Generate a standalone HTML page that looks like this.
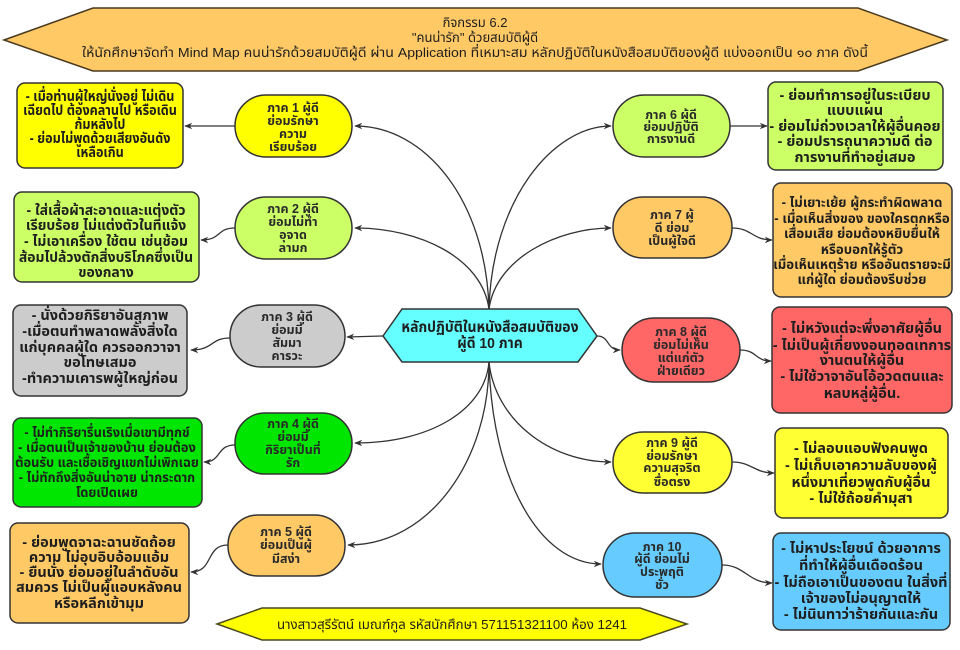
<!DOCTYPE html>
<html><head><meta charset="utf-8">
<style>
html,body{margin:0;padding:0;background:#fff;}
svg{display:block;}
text{font-family:"Liberation Sans","Noto Sans Thai","Loma","Garuda","Tlwg Typo","DejaVu Sans",sans-serif;fill:#1e1e1e;text-anchor:middle;}
.h{font-size:13px;}
.n{font-size:12.5px;font-weight:bold;fill:#2a2a2a;}
.b{font-size:14.5px;font-weight:bold;}
.s{font-size:13.5px;font-weight:bold;}
.c{font-size:15px;font-weight:bold;}
</style></head>
<body>
<svg width="960" height="650" viewBox="0 0 960 650" xmlns="http://www.w3.org/2000/svg">
<defs>
<marker id="a" viewBox="0 0 10 10" refX="9" refY="5" markerWidth="8" markerHeight="8" markerUnits="userSpaceOnUse" orient="auto">
<path d="M0,1 L10,5 L0,9 L3,5 Z" fill="#333"/>
</marker>
</defs>
<rect width="960" height="650" fill="#fff"/>

<!-- header -->
<polygon points="4,40 93,8 858,8 947,40 858,71 93,71" fill="#ffc966" stroke="#4a3a20" stroke-width="1.5"/>
<text class="h" x="475" y="27">กิจกรรม 6.2</text>
<text class="h" x="475" y="42">"คนน่ารัก" ด้วยสมบัติผู้ดี</text>
<text class="h" x="475" y="57" textLength="786" lengthAdjust="spacingAndGlyphs">ให้นักศึกษาจัดทำ Mind Map คนน่ารักด้วยสมบัติผู้ดี ผ่าน Application ที่เหมาะสม หลักปฏิบัติในหนังสือสมบัติของผู้ดี แบ่งออกเป็น ๑๐ ภาค ดังนี้</text>

<!-- connectors center -->
<g fill="none" stroke="#333" stroke-width="1.3" marker-end="url(#a)">
<path d="M489,309 C486,200 425,126 355,126"/>
<path d="M489,309 C482,258 420,228 355,228"/>
<path d="M489,309 C492,200 553,126 611,126"/>
<path d="M489,309 C496,258 558,228 611,228"/>
<path d="M383,336 L347,337"/>
<path d="M597,336 C610,336 606,350 620,350"/>
<path d="M489,362 C485,410 430,443 355,443"/>
<path d="M489,362 C489,460 430,545 348,545"/>
<path d="M489,362 C495,420 550,462 611,462"/>
<path d="M489,362 C492,480 540,564 601,564"/>
<!-- node to box -->
<path d="M235,126 L185,126"/>
<path d="M235,228 C216,228 222,240 201,240"/>
<path d="M230,338 C210,338 214,350 191,350"/>
<path d="M235,445 C216,445 222,462 204,462"/>
<path d="M228,545 C205,545 214,572 191,572"/>
<path d="M730,126 L767,126"/>
<path d="M732,228 C752,228 752,240 772,240"/>
<path d="M740,350 C757,350 755,361 771,361"/>
<path d="M732,462 C752,462 754,473 774,473"/>
<path d="M722,565 C745,565 748,583 772,583"/>
</g>

<!-- center -->
<polygon points="383,336 402,309 578,309 597,336 578,362 402,362" fill="#66ffff" stroke="#333" stroke-width="1.5"/>
<g transform="translate(490,0) scale(0.93,1) translate(-490,0)">
<text class="c" x="490" y="332">หลักปฏิบัติในหนังสือสมบัติของ</text>
<text class="c" x="490" y="348">ผู้ดี  10 ภาค</text>
</g>

<!-- nodes -->
<g stroke="#333" stroke-width="1.5">
<rect x="235" y="95" width="117" height="62" rx="31" fill="#ffff00"/>
<rect x="235" y="197" width="117" height="62" rx="31" fill="#ccff66"/>
<rect x="230" y="305" width="115" height="62" rx="31" fill="#cccccc"/>
<rect x="235" y="413" width="117" height="61" rx="30" fill="#00e600"/>
<rect x="228" y="515" width="117" height="61" rx="30" fill="#ffc966"/>
<rect x="613" y="95" width="117" height="62" rx="31" fill="#ccff66"/>
<rect x="613" y="197" width="119" height="61" rx="30" fill="#ffc966"/>
<rect x="622" y="318" width="118" height="64" rx="32" fill="#ff6666"/>
<rect x="613" y="432" width="119" height="61" rx="30" fill="#ffff33"/>
<rect x="603" y="533" width="119" height="64" rx="32" fill="#66ccff"/>
</g>
<text class="n" x="293" y="112">ภาค 1 ผู้ดี</text>
<text class="n" x="293" y="125">ย่อมรักษา</text>
<text class="n" x="293" y="138">ความ</text>
<text class="n" x="293" y="151">เรียบร้อย</text>

<text class="n" x="293" y="213">ภาค 2 ผู้ดี</text>
<text class="n" x="293" y="226">ย่อมไม่ทำ</text>
<text class="n" x="293" y="239">อุจาด</text>
<text class="n" x="293" y="252">ลามก</text>

<text class="n" x="287" y="321">ภาค 3 ผู้ดี</text>
<text class="n" x="287" y="334">ย่อมมี</text>
<text class="n" x="287" y="347">สัมมา</text>
<text class="n" x="287" y="360">คารวะ</text>

<text class="n" x="293" y="428">ภาค 4 ผู้ดี</text>
<text class="n" x="293" y="441">ย่อมมี</text>
<text class="n" x="293" y="454">กิริยาเป็นที่</text>
<text class="n" x="293" y="467">รัก</text>

<text class="n" x="286" y="536">ภาค 5 ผู้ดี</text>
<text class="n" x="286" y="549">ย่อมเป็นผู้</text>
<text class="n" x="286" y="563">มีสง่า</text>

<text class="n" x="671" y="119">ภาค 6  ผู้ดี</text>
<text class="n" x="671" y="131">ย่อมปฏิบัติ</text>
<text class="n" x="671" y="143">การงานดี</text>

<text class="n" x="672" y="219">ภาค 7 ผู้</text>
<text class="n" x="672" y="232">ดี ย่อม</text>
<text class="n" x="672" y="245">เป็นผู้ใจดี</text>

<text class="n" x="681" y="336">ภาค 8 ผู้ดี</text>
<text class="n" x="681" y="349">ย่อมไม่เห็น</text>
<text class="n" x="681" y="362">แต่แก่ตัว</text>
<text class="n" x="681" y="375">ฝ่ายเดียว</text>

<text class="n" x="672" y="447">ภาค 9 ผู้ดี</text>
<text class="n" x="672" y="460">ย่อมรักษา</text>
<text class="n" x="672" y="472">ความสุจริต</text>
<text class="n" x="672" y="486">ซื่อตรง</text>

<text class="n" x="662" y="551">ภาค 10</text>
<text class="n" x="662" y="563">ผู้ดี ย่อมไม่</text>
<text class="n" x="662" y="576">ประพฤติ</text>
<text class="n" x="662" y="589">ชั่ว</text>

<!-- boxes -->
<g stroke="#333" stroke-width="1.5">
<rect x="17" y="83" width="166" height="85" rx="8" fill="#ffff00"/>
<rect x="14" y="192" width="185" height="90" rx="8" fill="#ccff66"/>
<rect x="13" y="305" width="174" height="91" rx="8" fill="#cccccc"/>
<rect x="13" y="418" width="189" height="89" rx="8" fill="#00e600"/>
<rect x="10" y="523" width="179" height="100" rx="8" fill="#ffc966"/>
<rect x="768" y="82" width="175" height="88" rx="8" fill="#ccff66"/>
<rect x="773" y="183" width="179" height="114" rx="8" fill="#ffc966"/>
<rect x="772" y="307" width="180" height="106" rx="8" fill="#ff6666"/>
<rect x="775" y="428" width="173" height="90" rx="8" fill="#ffff33"/>
<rect x="773" y="533" width="177" height="97" rx="8" fill="#66ccff"/>
</g>

<g transform="translate(100,0) scale(0.87,1) translate(-100,0)">
<text class="b" x="100" y="101">- เมื่อท่านผู้ใหญ่นั่งอยู่ ไม่เดิน</text>
<text class="b" x="100" y="115">เฉียดไป ต้องคลานไป หรือเดิน</text>
<text class="b" x="100" y="129">ก้มหลังไป</text>
<text class="b" x="100" y="143">- ย่อมไม่พูดด้วยเสียงอันดัง</text>
<text class="b" x="100" y="157">เหลือเกิน</text>
</g>

<g transform="translate(106,0) scale(0.96,1) translate(-106,0)">
<text class="b" x="106" y="215">- ใส่เสื้อผ้าสะอาดและแต่งตัว</text>
<text class="b" x="106" y="230">เรียบร้อย ไม่แต่งตัวในที่แจ้ง</text>
<text class="b" x="106" y="246">- ไม่เอาเครื่อง ใช้ตน เช่นช้อม</text>
<text class="b" x="106" y="262">ส้อมไปล้วงตักสิ่งบริโภคซึ่งเป็น</text>
<text class="b" x="106" y="277">ของกลาง</text>
</g>

<text class="b" x="100" y="320">- นั่งด้วยกิริยาอันสุภาพ</text>
<text class="b" x="100" y="336">-เมื่อตนทำพลาดพลั้งสิ่งใด</text>
<text class="b" x="100" y="352">แก่บุคคลผู้ใด ควรออกวาจา</text>
<text class="b" x="100" y="367">ขอโทษเสมอ</text>
<text class="b" x="100" y="383">-ทำความเคารพผู้ใหญ่ก่อน</text>

<g transform="translate(107,0) scale(0.95,1) translate(-107,0)">
<text class="s" x="107" y="437">- ไม่ทำกิริยารื่นเริงเมื่อเขามีทุกข์</text>
<text class="s" x="107" y="452">- เมื่อตนเป็นเจ้าของบ้าน ย่อมต้อง</text>
<text class="s" x="107" y="467">ต้อนรับ และเชื้อเชิญแขกไม่เพิกเฉย</text>
<text class="s" x="107" y="482">- ไม่ทักถึงสิ่งอันน่าอาย น่ากระดาก</text>
<text class="s" x="107" y="497">โดยเปิดเผย</text>
</g>

<text class="b" x="99" y="547">- ย่อมพูดจาฉะฉานชัดถ้อย</text>
<text class="b" x="99" y="562">ความ ไม่อุบอิบอ้อมแอ้ม</text>
<text class="b" x="99" y="577">- ยืนนั่ง ย่อมอยู่ในลำดับอัน</text>
<text class="b" x="99" y="592">สมควร ไม่เป็นผู้แอบหลังคน</text>
<text class="b" x="99" y="608">หรือหลีกเข้ามุม</text>

<text class="b" x="855" y="100">-  ย่อมทำการอยู่ในระเบียบ</text>
<text class="b" x="855" y="115">แบบแผน</text>
<text class="b" x="855" y="131">- ย่อมไม่ถ่วงเวลาให้ผู้อื่นคอย</text>
<text class="b" x="855" y="146">- ย่อมปรารถนาความดี ต่อ</text>
<text class="b" x="855" y="162">การงานที่ทำอยู่เสมอ</text>

<g transform="translate(862,0) scale(0.98,1) translate(-862,0)">
<text class="s" x="862" y="207">- ไม่เยาะเย้ย ผู้กระทำผิดพลาด</text>
<text class="s" x="862" y="223">- เมื่อเห็นสิ่งของ ของใครตกหรือ</text>
<text class="s" x="862" y="238">เสื่อมเสีย ย่อมต้องหยิบยื่นให้</text>
<text class="s" x="862" y="254">หรือบอกให้รู้ตัว</text>
<text class="s" x="862" y="269">เมื่อเห็นเหตุร้าย หรืออันตรายจะมี</text>
<text class="s" x="862" y="284">แก่ผู้ใด ย่อมต้องรีบช่วย</text>
</g>

<text class="b" x="862" y="333">- ไม่หวังแต่จะพึ่งอาศัยผู้อื่น</text>
<text class="b" x="862" y="350">- ไม่เป็นผู้เกี่ยงงอนทอดเทการ</text>
<text class="b" x="862" y="365">งานตนให้ผู้อื่น</text>
<text class="b" x="862" y="381">- ไม่ใช้วาจาอันโอ้อวดตนและ</text>
<text class="b" x="862" y="398">หลบหลู่ผู้อื่น.</text>

<text class="b" x="861" y="453">- ไม่ลอบแอบฟังคนพูด</text>
<text class="b" x="861" y="470">- ไม่เก็บเอาความลับของผู้</text>
<text class="b" x="861" y="487">หนึ่งมาเที่ยวพูดกับผู้อื่น</text>
<text class="b" x="861" y="503">- ไม่ใช้ถ้อยคำมุสา</text>

<text class="b" x="861" y="553">- ไม่หาประโยชน์ ด้วยอาการ</text>
<text class="b" x="861" y="570">ที่ทำให้ผู้อื่นเดือดร้อน</text>
<text class="b" x="861" y="587">- ไม่ถือเอาเป็นของตน ในสิ่งที่</text>
<text class="b" x="861" y="603">เจ้าของไม่อนุญาตให้</text>
<text class="b" x="861" y="619">- ไม่นินทาว่าร้ายกันและกัน</text>

<!-- footer -->
<polygon points="217,624 262,608 640,608 687,624 640,640 262,640" fill="#ffff00" stroke="#4a4a20" stroke-width="1.5"/>
<text class="h" x="452" y="629" textLength="350" lengthAdjust="spacingAndGlyphs">นางสาวสุรีรัตน์ เมณฑ์กูล รหัสนักศึกษา 571151321100  ห้อง 1241</text>
</svg>
</body></html>
